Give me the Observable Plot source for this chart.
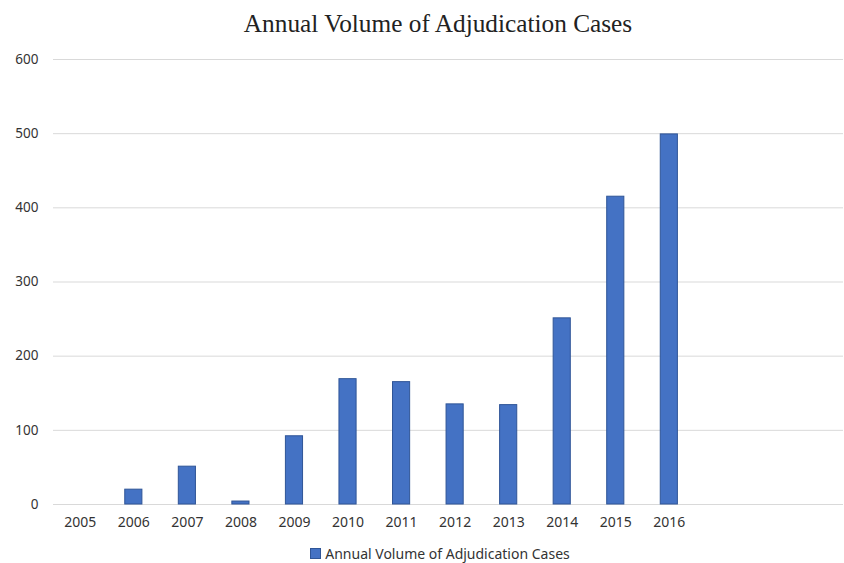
<!DOCTYPE html>
<html>
<head>
<meta charset="utf-8">
<script src="https://cdn.jsdelivr.net/npm/d3@7"></script>
<script src="https://cdn.jsdelivr.net/npm/@observablehq/plot@0.6"></script>
<style>
  html, body { margin: 0; padding: 0; background: #fff; }
  #wrap { position: relative; width: 844px; height: 563px; overflow: hidden; }
  #title { position: absolute; left: 0; top: 9px; width: 876px; text-align: center;
           font-family: "Liberation Serif", "Times New Roman", serif; font-size: 25.3px; color: #222; }
  #chart { position: absolute; left: 0; top: 45px; }
  #legend { position: absolute; left: 0; top: 544px; width: 880px; text-align: center;
            font-family: "Noto Sans", sans-serif; font-size: 14px; color: #333; }
  #legend .sw { display: inline-block; width: 9px; height: 9px; background: #4472c4;
                border: 1px solid #2f5597; margin-right: 4px; vertical-align: 0px; }
</style>
</head>
<body>
<div id="wrap">
  <div id="title">Annual Volume of Adjudication Cases</div>
  <div id="chart"></div>
  <div id="legend"><span class="sw"></span>Annual Volume of Adjudication Cases</div>
</div>
<script>
const years = ["2005","2006","2007","2008","2009","2010","2011","2012","2013","2014","2015","2016"];
const cases = [0, 20, 51, 4, 92, 169, 165, 135, 134, 251, 415, 499];
const emptySlots = ["_a","_b","_c"];
const yTicks = [0, 100, 200, 300, 400, 500, 600];

const data = years.map((y, i) => ({year: y, value: cases[i]}));
const step = 53.55;
const left = 53;

const plot = Plot.plot({
  width: 844,
  height: 489,
  marginTop: 14,
  marginBottom: 30,
  marginLeft: 53,
  marginRight: 1,
  style: {fontFamily: "'Noto Sans', sans-serif", fontSize: "14px", color: "#333", background: "#fff"},
  x: {domain: [...years, ...emptySlots], range: [left, left + step * 15], paddingInner: 0.68, paddingOuter: 0.34, round: false, label: null},
  y: {domain: [0, 600], label: null},
  marks: [
    Plot.ruleY(yTicks, {stroke: "#d9d9d9", strokeWidth: 1}),
    Plot.barY(data, {x: "year", y: "value", fill: "#4472c4", stroke: "#2f5597", strokeWidth: 1}),
    Plot.axisY(yTicks, {tickSize: 0, tickPadding: 15, fontSize: 13.5, label: null}),
    Plot.axisX(years, {tickSize: 0, tickPadding: 13, fontSize: 14, label: null})
  ]
});
document.getElementById("chart").appendChild(plot);
</script>
</body>
</html>
